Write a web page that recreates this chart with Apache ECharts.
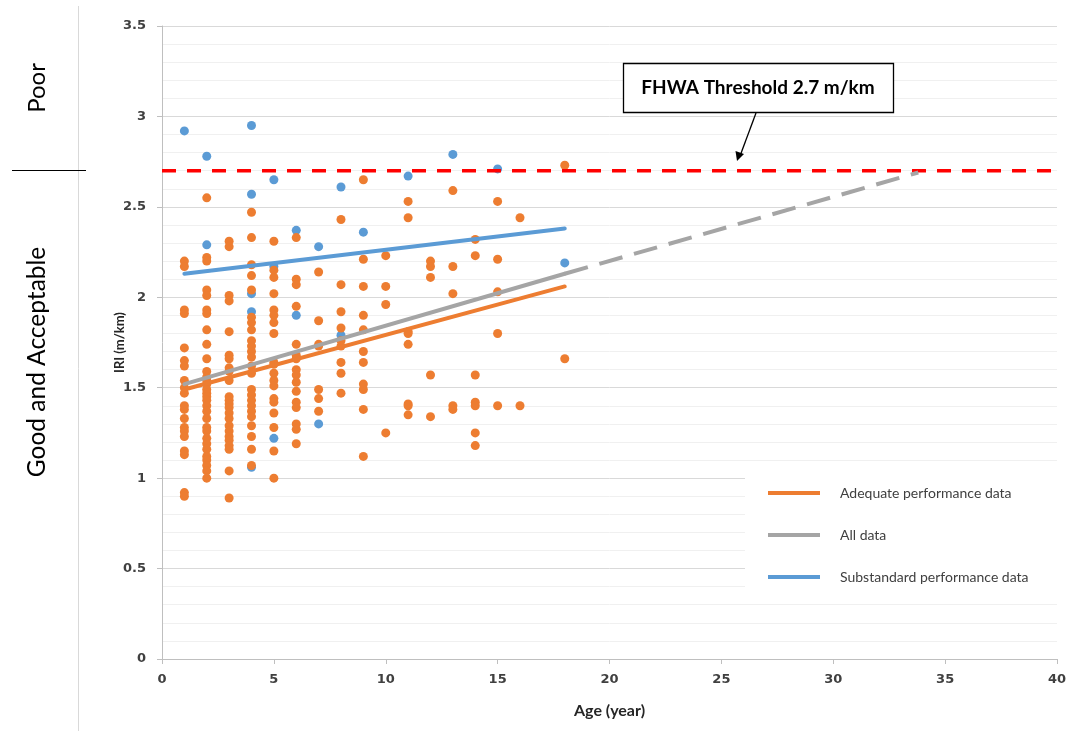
<!DOCTYPE html>
<html>
<head>
<meta charset="utf-8">
<script src="https://cdn.jsdelivr.net/npm/echarts@6/dist/echarts.min.js"></script>
<style>
  html, body { margin: 0; padding: 0; background: #fff; }
  #chart { width: 1073px; height: 731px; }
</style>
</head>
<body>
<div id="chart"></div>
<script>
// IRI observations by pavement age, [age (year), IRI (m/km)]
const adequatePoints = [
  [1,2.20],[1,2.17],[1,1.93],[1,1.91],[1,1.72],[1,1.65],[1,1.62],[1,1.54],[1,1.50],[1,1.47],
  [1,1.40],[1,1.38],[1,1.33],[1,1.28],[1,1.26],[1,1.23],[1,1.15],[1,1.13],[1,0.92],[1,0.90],
  [2,2.55],[2,2.22],[2,2.20],[2,2.04],[2,2.01],[2,1.93],[2,1.91],[2,1.82],[2,1.74],[2,1.66],
  [2,1.59],[2,1.56],[2,1.54],[2,1.52],[2,1.49],[2,1.47],[2,1.45],[2,1.43],[2,1.40],[2,1.37],
  [2,1.33],[2,1.28],[2,1.26],[2,1.22],[2,1.19],[2,1.16],[2,1.12],[2,1.10],[2,1.07],[2,1.04],[2,1.00],
  [3,2.31],[3,2.28],[3,2.01],[3,1.98],[3,1.81],[3,1.68],[3,1.66],[3,1.61],[3,1.59],[3,1.54],
  [3,1.45],[3,1.43],[3,1.41],[3,1.39],[3,1.36],[3,1.33],[3,1.29],[3,1.26],[3,1.23],[3,1.21],
  [3,1.18],[3,1.16],[3,1.04],[3,0.89],
  [4,2.47],[4,2.33],[4,2.18],[4,2.12],[4,2.04],[4,1.89],[4,1.86],[4,1.82],[4,1.76],[4,1.73],
  [4,1.70],[4,1.67],[4,1.62],[4,1.58],[4,1.49],[4,1.46],[4,1.43],[4,1.40],[4,1.37],[4,1.34],
  [4,1.29],[4,1.23],[4,1.16],[4,1.07],
  [5,2.31],[5,2.15],[5,2.11],[5,2.02],[5,1.93],[5,1.90],[5,1.86],[5,1.80],[5,1.64],[5,1.63],
  [5,1.58],[5,1.54],[5,1.51],[5,1.44],[5,1.42],[5,1.36],[5,1.28],[5,1.15],[5,1.00],
  [6,2.33],[6,2.10],[6,2.07],[6,1.95],[6,1.74],[6,1.68],[6,1.66],[6,1.60],[6,1.57],[6,1.53],
  [6,1.48],[6,1.42],[6,1.39],[6,1.30],[6,1.27],[6,1.19],
  [7,2.14],[7,1.87],[7,1.74],[7,1.73],[7,1.49],[7,1.44],[7,1.37],
  [8,2.43],[8,2.07],[8,1.92],[8,1.83],[8,1.76],[8,1.73],[8,1.64],[8,1.58],[8,1.47],
  [9,2.65],[9,2.21],[9,2.06],[9,1.90],[9,1.82],[9,1.70],[9,1.64],[9,1.52],[9,1.49],[9,1.38],[9,1.12],
  [10,2.23],[10,2.06],[10,1.96],[10,1.25],
  [11,2.53],[11,2.44],[11,1.81],[11,1.80],[11,1.74],[11,1.41],[11,1.40],[11,1.35],
  [12,2.20],[12,2.17],[12,2.11],[12,1.57],[12,1.34],
  [13,2.59],[13,2.17],[13,2.02],[13,1.40],[13,1.38],
  [14,2.32],[14,2.23],[14,1.57],[14,1.42],[14,1.40],[14,1.25],[14,1.18],
  [15,2.53],[15,2.21],[15,2.03],[15,1.80],[15,1.40],
  [16,2.44],[16,1.40],
  [18,2.73],[18,1.66]
];
const substandardPoints = [
  [1,2.92],[2,2.78],[2,2.29],[4,2.95],[4,2.57],[4,2.02],[4,1.92],[4,1.06],[5,2.65],[5,2.17],
  [5,1.22],[6,2.37],[6,1.90],[7,2.28],[7,1.30],[8,2.61],[8,1.79],[9,2.36],[11,2.67],[13,2.79],
  [15,2.71],[18,2.19]
];

// Linear trend endpoints
const adequateTrend = [[1,1.49],[18,2.06]];
const allTrend = [[1,1.52],[18,2.13]];
const allTrendExtension = [[18,2.13],[33.8,2.69]];
const substandardTrend = [[1,2.13],[18,2.38]];

// FHWA threshold
const thresholdIri = 2.7;
const thresholdLine = [[0, thresholdIri],[40, thresholdIri]];

const legendNames = ['Adequate performance data','All data','Substandard performance data'];
const xTicks = { min: 0, max: 40, interval: 5 };
const yTicks = { min: 0, max: 3.5, interval: 0.5 };

const ORANGE = '#ED7D31', BLUE = '#5B9BD5', GRAY = '#A5A5A5';
const tickFont = { fontFamily: 'DejaVu Sans', fontWeight: 'bold', fontSize: 13, color: '#404040' };

const chart = echarts.init(document.getElementById('chart'), null, { renderer: 'canvas' });

function legendItem(name, color) {
  return { name: name, icon: 'rect', itemStyle: { color: color, borderWidth: 0 }, lineStyle: { type: 'solid', color: color, width: 4 } };
}

chart.setOption({
  animation: false,
  backgroundColor: '#fff',
  grid: { left: 162, right: 16, top: 26, bottom: 72, containLabel: false },
  xAxis: {
    type: 'value', min: xTicks.min, max: xTicks.max, interval: xTicks.interval,
    name: 'Age (year)', nameLocation: 'middle', nameGap: 44, nameMoveOverlap: false,
    nameTextStyle: { fontFamily: 'Lato', fontWeight: 'bold', fontSize: 16, color: '#262626' },
    axisLine: { show: true, lineStyle: { color: '#BFBFBF', width: 1 } },
    axisTick: { show: true, length: 5, lineStyle: { color: '#BFBFBF' } },
    axisLabel: Object.assign({ margin: 14 }, tickFont),
    splitLine: { show: false }
  },
  yAxis: {
    type: 'value', min: yTicks.min, max: yTicks.max, interval: yTicks.interval,
    name: 'IRI (m/km)', nameLocation: 'middle', nameGap: 36, nameRotate: 90, nameMoveOverlap: false,
    nameTextStyle: { fontFamily: 'Lato', fontWeight: 'bold', fontSize: 13, color: '#262626' },
    axisLine: { show: true, lineStyle: { color: '#BFBFBF', width: 1 } },
    axisTick: { show: true, length: 5, lineStyle: { color: '#BFBFBF' } },
    axisLabel: Object.assign({ margin: 16 }, tickFont),
    splitLine: { show: true, lineStyle: { color: '#D9D9D9', width: 1 } },
    minorTick: { show: false, splitNumber: 5 },
    minorSplitLine: { show: true, lineStyle: { color: '#F0F0F0', width: 1 } }
  },
  legend: {
    orient: 'vertical', left: 745, top: 470,
    padding: [16, 34, 16, 23],
    backgroundColor: '#fff',
    itemWidth: 52, itemHeight: 4, itemGap: 28,
    icon: 'rect',
    selectedMode: false,
    textStyle: { fontFamily: 'Lato', fontSize: 14, color: '#404040', padding: [0, 0, 0, 15] },
    data: [
      legendItem(legendNames[0], ORANGE),
      legendItem(legendNames[1], GRAY),
      legendItem(legendNames[2], BLUE)
    ],
    z: 5
  },
  series: [
    {
      name: 'Substandard points', type: 'scatter', data: substandardPoints,
      symbolSize: 9, itemStyle: { color: BLUE, opacity: 1 }, z: 2
    },
    {
      name: 'Adequate points', type: 'scatter', data: adequatePoints,
      symbolSize: 9, itemStyle: { color: ORANGE, opacity: 1 }, z: 3
    },
    {
      name: 'FHWA threshold', type: 'line', data: thresholdLine, symbol: 'none',
      lineStyle: { color: '#FF0000', width: 3.5, type: [14, 11] }, z: 4
    },
    {
      name: legendNames[0], type: 'line', data: adequateTrend, symbol: 'none',
      lineStyle: { color: ORANGE, width: 4, cap: 'round' }, itemStyle: { color: ORANGE }, z: 4
    },
    {
      name: legendNames[1], type: 'line', data: allTrend, symbol: 'none',
      lineStyle: { color: GRAY, width: 4, cap: 'round' }, itemStyle: { color: GRAY }, z: 4
    },
    {
      name: 'All data projection', type: 'line', data: allTrendExtension, symbol: 'none',
      lineStyle: { color: GRAY, width: 4, type: [24, 12] }, z: 4
    },
    {
      name: legendNames[2], type: 'line', data: substandardTrend, symbol: 'none',
      lineStyle: { color: BLUE, width: 4, cap: 'round' }, itemStyle: { color: BLUE }, z: 4
    }
  ],
  graphic: [
    // chart area border on the left
    { type: 'line', shape: { x1: 78.5, y1: 6, x2: 78.5, y2: 731 }, style: { stroke: '#D9D9D9', lineWidth: 1 } },
    // condition zone labels
    { type: 'text', x: 37, y: 88, rotation: Math.PI / 2,
      style: { text: 'Poor', font: '24px Lato', fill: '#000', align: 'center', verticalAlign: 'middle' } },
    { type: 'line', shape: { x1: 12, y1: 170.5, x2: 86, y2: 170.5 }, style: { stroke: '#000', lineWidth: 1.2 } },
    { type: 'text', x: 37, y: 362, rotation: Math.PI / 2,
      style: { text: 'Good and Acceptable', font: '24.5px Lato', fill: '#000', align: 'center', verticalAlign: 'middle' } },
    // threshold callout
    { type: 'rect', shape: { x: 623.5, y: 63.5, width: 270, height: 49 },
      style: { fill: '#fff', stroke: '#000', lineWidth: 1.3 }, z: 10 },
    { type: 'text', x: 758, y: 88, z: 11,
      style: { text: 'FHWA Threshold 2.7 m/km', font: 'bold 19px Lato', fill: '#000', align: 'center', verticalAlign: 'middle' } },
    { type: 'line', shape: { x1: 756, y1: 113, x2: 740, y2: 156 }, style: { stroke: '#000', lineWidth: 1.3 }, z: 10 },
    { type: 'polygon', shape: { points: [[737, 161], [735.5, 151], [744, 154]] }, style: { fill: '#000' }, z: 10 }
  ]
});
</script>
</body>
</html>
